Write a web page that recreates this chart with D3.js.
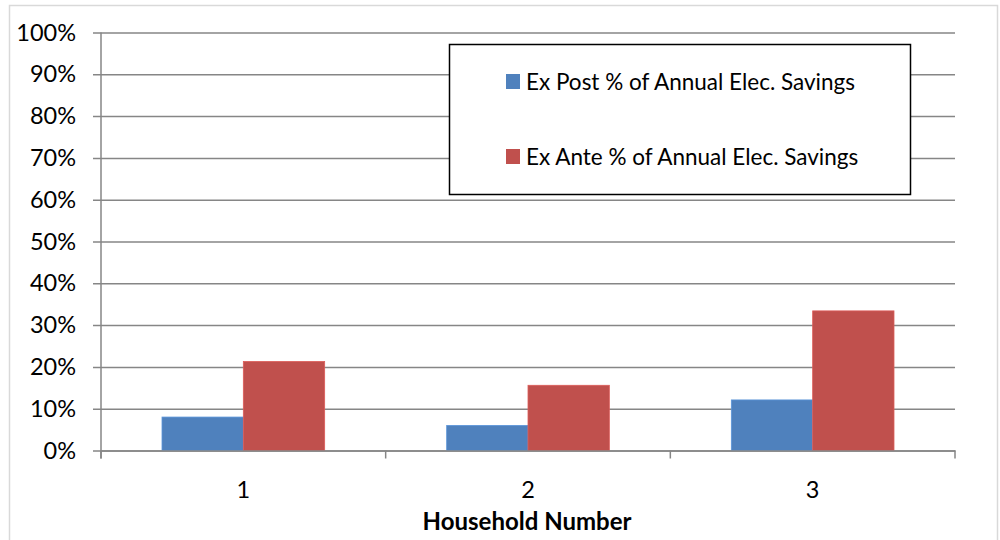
<!DOCTYPE html>
<html>
<head>
<meta charset="utf-8">
<script src="https://cdn.jsdelivr.net/npm/d3@7"></script>
<style>
  body { margin: 0; background: #fff; }
  svg text { font-family: Lato, "Liberation Sans", sans-serif; fill: #000; }
</style>
</head>
<body>
<div id="chart"></div>
<script>
  var households = ['1', '2', '3'];
  var seriesNames = ['Ex Post % of Annual Elec. Savings', 'Ex Ante % of Annual Elec. Savings'];
  var exPost = [0.080, 0.060, 0.121];
  var exAnte = [0.213, 0.156, 0.334];
  var yTicks = [0, 0.1, 0.2, 0.3, 0.4, 0.5, 0.6, 0.7, 0.8, 0.9, 1.0];
  var colors = ['#4F81BD', '#C0504D'];

  var width = 1000, height = 540;
  var margin = {left: 101, right: 45, top: 32.5, bottom: 89.5};

  var svg = d3.select('#chart').append('svg')
    .attr('width', width)
    .attr('height', height);

  //outer chart frame
  svg.append('rect')
    .attr('x', 9.5).attr('y', 5.5)
    .attr('width', 988).attr('height', 560)
    .attr('fill', 'none')
    .attr('stroke', '#D9D9D9')
    .attr('stroke-width', 1.5);

  var x = d3.scaleBand()
    .domain(households)
    .range([margin.left, width - margin.right]);

  var x1 = d3.scaleBand()
    .domain([0, 1])
    .range([0, x.bandwidth()])
    .paddingOuter(0.75)
    .paddingInner(0);

  var y = d3.scaleLinear()
    .domain([0, 1])
    .range([height - margin.bottom, margin.top]);

  //gridlines + y axis
  var yAxis = d3.axisLeft(y)
    .tickValues(yTicks)
    .tickFormat(d3.format('.0%'))
    .tickSize(-(width - margin.right - margin.left))
    .tickPadding(25);

  var gy = svg.append('g')
    .attr('transform', 'translate(' + margin.left + ',0)')
    .call(yAxis);
  gy.select('.domain').remove();
  gy.selectAll('.tick line')
    .attr('x1', -8)
    .attr('stroke', '#868686')
    .attr('stroke-width', 1.5);
  gy.selectAll('.tick text')
    .attr('font-size', 23.5)
    .attr('font-family', 'Lato, sans-serif')
    .attr('fill', '#000');

  //bars
  var data = [exPost, exAnte];
  households.forEach(function(h, i) {
    data.forEach(function(series, s) {
      svg.append('rect')
        .attr('x', x(h) + x1(s))
        .attr('y', y(series[i]))
        .attr('width', x1.bandwidth())
        .attr('height', y(0) - y(series[i]))
        .attr('fill', colors[s])
        .attr('stroke', d3.color(colors[s]).brighter(0.4))
        .attr('stroke-width', 0.8);
    });
  });

  //x axis
  var xAxis = d3.axisBottom(x)
    .tickSize(0)
    .tickPadding(31);
  var gx = svg.append('g')
    .attr('transform', 'translate(0,' + y(0) + ')')
    .call(xAxis);
  gx.select('.domain')
    .attr('stroke', '#868686')
    .attr('stroke-width', 1.5);
  gx.selectAll('.tick text')
    .attr('font-size', 23.5)
    .attr('font-family', 'Lato, sans-serif')
    .attr('fill', '#000');

  //category boundary ticks
  var bounds = households.map(function(h) { return x(h); }).concat([width - margin.right]);
  svg.append('g').selectAll('line')
    .data(bounds)
    .enter().append('line')
      .attr('x1', function(d) { return d; })
      .attr('x2', function(d) { return d; })
      .attr('y1', y(0))
      .attr('y2', y(0) + 8)
      .attr('stroke', '#868686')
      .attr('stroke-width', 1.5);

  //y axis line
  svg.append('line')
    .attr('x1', margin.left).attr('x2', margin.left)
    .attr('y1', y(1)).attr('y2', y(0) + 8)
    .attr('stroke', '#868686')
    .attr('stroke-width', 1.5);

  //x axis title
  svg.append('text')
    .attr('x', 527)
    .attr('y', 530)
    .attr('text-anchor', 'middle')
    .attr('font-size', 24)
    .attr('font-weight', 'bold')
    .text('Household Number');

  //legend
  var legend = svg.append('g');
  legend.append('rect')
    .attr('x', 449.5).attr('y', 44.5)
    .attr('width', 461).attr('height', 150)
    .attr('fill', '#fff')
    .attr('stroke', '#000')
    .attr('stroke-width', 1.5);

  seriesNames.forEach(function(name, s) {
    legend.append('rect')
      .attr('x', 506).attr('y', 74 + s * 75)
      .attr('width', 14).attr('height', 15)
      .attr('fill', colors[s]);
    legend.append('text')
      .attr('x', 526).attr('y', 90 + s * 75)
      .attr('font-size', 22.5)
      .text(name);
  });
</script>
</body>
</html>
